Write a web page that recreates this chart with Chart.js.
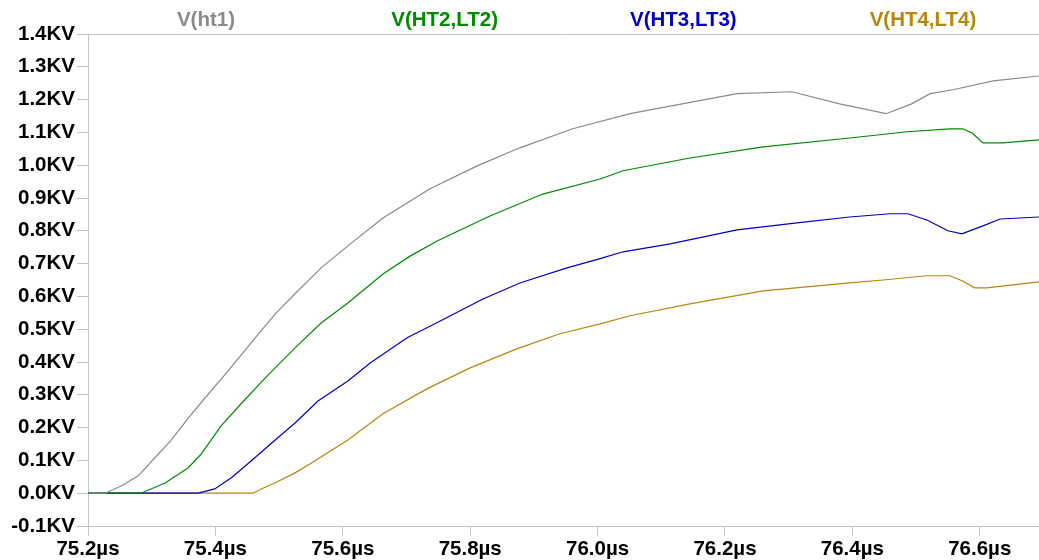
<!DOCTYPE html>
<html>
<head>
<meta charset="utf-8">
<script src="https://cdn.jsdelivr.net/npm/chart.js@4"></script>
<style>
  html, body { margin: 0; padding: 0; background: #fff; }
  #wrap { width: 1039px; height: 560px; }
</style>
</head>
<body>
<div id="wrap"><canvas id="grafico" width="1039" height="560"></canvas></div>
<script>
// eixo x em µs, eixo y em KV
const xTicks = [75.2, 75.4, 75.6, 75.8, 76.0, 76.2, 76.4, 76.6];
const yTicks = [-0.1, 0.0, 0.1, 0.2, 0.3, 0.4, 0.5, 0.6, 0.7, 0.8, 0.9, 1.0, 1.1, 1.2, 1.3, 1.4];

const nomes = ['V(ht1)', 'V(HT2,LT2)', 'V(HT3,LT3)', 'V(HT4,LT4)'];
const cores = ['#8a8a8a', '#008a00', '#0000c0', '#b8860b'];

const tHt1 = [75.2, 75.227, 75.252, 75.279, 75.305, 75.330, 75.357, 75.384, 75.420, 75.456, 75.494, 75.525, 75.566, 75.608, 75.663, 75.737, 75.811, 75.878, 75.961, 76.051, 76.219, 76.305, 76.380, 76.453, 76.493, 76.522, 76.558, 76.621, 76.693];
const vHt1 = [0, 0, 0.022, 0.053, 0.108, 0.160, 0.228, 0.291, 0.373, 0.458, 0.547, 0.608, 0.687, 0.754, 0.839, 0.928, 0.998, 1.053, 1.111, 1.157, 1.218, 1.224, 1.187, 1.157, 1.187, 1.218, 1.230, 1.257, 1.272];

const tHt2 = [75.2, 75.283, 75.321, 75.357, 75.377, 75.409, 75.440, 75.478, 75.525, 75.566, 75.608, 75.663, 75.705, 75.748, 75.831, 75.914, 76.004, 76.040, 76.145, 76.260, 76.396, 76.486, 76.553, 76.573, 76.588, 76.605, 76.636, 76.693];
const vHt2 = [0, 0, 0.031, 0.077, 0.118, 0.205, 0.272, 0.351, 0.443, 0.519, 0.580, 0.668, 0.722, 0.769, 0.845, 0.912, 0.958, 0.983, 1.022, 1.056, 1.083, 1.102, 1.111, 1.111, 1.098, 1.068, 1.068, 1.077];

const tHt3 = [75.2, 75.373, 75.399, 75.425, 75.456, 75.498, 75.525, 75.561, 75.608, 75.643, 75.701, 75.753, 75.820, 75.878, 75.952, 76.004, 76.040, 76.114, 76.219, 76.313, 76.396, 76.459, 76.487, 76.517, 76.550, 76.572, 76.605, 76.632, 76.693];
const vHt3 = [0, 0, 0.013, 0.047, 0.098, 0.169, 0.214, 0.281, 0.342, 0.397, 0.474, 0.525, 0.592, 0.641, 0.687, 0.715, 0.736, 0.760, 0.803, 0.824, 0.842, 0.852, 0.852, 0.833, 0.800, 0.791, 0.815, 0.836, 0.842];

const tHt4 = [75.2, 75.459, 75.472, 75.494, 75.525, 75.556, 75.588, 75.608, 75.663, 75.732, 75.800, 75.873, 75.941, 76.004, 76.051, 76.145, 76.260, 76.396, 76.448, 76.517, 76.553, 76.573, 76.592, 76.611, 76.693];
const vHt4 = [0, 0, 0.013, 0.032, 0.062, 0.098, 0.138, 0.162, 0.242, 0.318, 0.382, 0.440, 0.486, 0.516, 0.541, 0.577, 0.617, 0.641, 0.650, 0.663, 0.663, 0.647, 0.626, 0.626, 0.644];

const tempos = [tHt1, tHt2, tHt3, tHt4];
const valores = [vHt1, vHt2, vHt3, vHt4];

// posição horizontal de cada nome (fração da área do gráfico)
const posNomes = [0.124, 0.375, 0.626, 0.878];

const fonte = '"Liberation Sans", Arial, sans-serif';
const corEixo = '#c4c4c4';

const titulosPlugin = {
  id: 'titulos',
  afterDraw(chart) {
    const { ctx, chartArea } = chart;
    ctx.save();
    // linha superior
    ctx.strokeStyle = corEixo;
    ctx.lineWidth = 1;
    ctx.beginPath();
    ctx.moveTo(chartArea.left, chartArea.top + 0.5);
    ctx.lineTo(chartArea.right, chartArea.top + 0.5);
    ctx.stroke();
    // nomes das curvas
    ctx.font = 'bold 20.5px ' + fonte;
    ctx.textAlign = 'center';
    ctx.textBaseline = 'alphabetic';
    nomes.forEach((nome, i) => {
      ctx.fillStyle = cores[i];
      const x = chartArea.left + posNomes[i] * (chartArea.right - chartArea.left);
      ctx.fillText(nome, x, 26);
    });
    ctx.restore();
  }
};

const datasets = nomes.map((nome, i) => ({
  label: nome,
  data: tempos[i].map((t, j) => ({ x: t, y: valores[i][j] })),
  borderColor: cores[i],
  borderWidth: 1.2,
  pointRadius: 0,
  tension: 0,
  fill: false
}));

new Chart(document.getElementById('grafico').getContext('2d'), {
  type: 'line',
  data: { datasets },
  options: {
    responsive: false,
    animation: false,
    layout: { padding: { top: 34, right: 0, left: 0, bottom: 0 } },
    plugins: {
      legend: { display: false },
      tooltip: { enabled: false }
    },
    scales: {
      x: {
        type: 'linear',
        min: 75.2,
        max: 76.693,
        afterBuildTicks: (scale) => { scale.ticks = xTicks.map(v => ({ value: v })); },
        afterFit: (scale) => { scale.height = 34; },
        grid: { drawOnChartArea: false, color: corEixo, tickLength: 10 },
        border: { color: corEixo },
        ticks: {
          color: '#000',
          padding: 1,
          maxRotation: 0,
          font: { family: fonte, size: 20.5, weight: 'bold' },
          callback: (v) => v.toFixed(1) + 'µs'
        }
      },
      y: {
        min: -0.1,
        max: 1.4,
        afterBuildTicks: (scale) => { scale.ticks = yTicks.map(v => ({ value: v })); },
        afterFit: (scale) => { scale.width = 88; },
        grid: { drawOnChartArea: false, color: corEixo, tickLength: 11 },
        border: { color: corEixo },
        ticks: {
          color: '#000',
          padding: 2,
          font: { family: fonte, size: 20.5, weight: 'bold' },
          callback: (v) => v.toFixed(1) + 'KV'
        }
      }
    }
  },
  plugins: [titulosPlugin]
});
</script>
</body>
</html>
